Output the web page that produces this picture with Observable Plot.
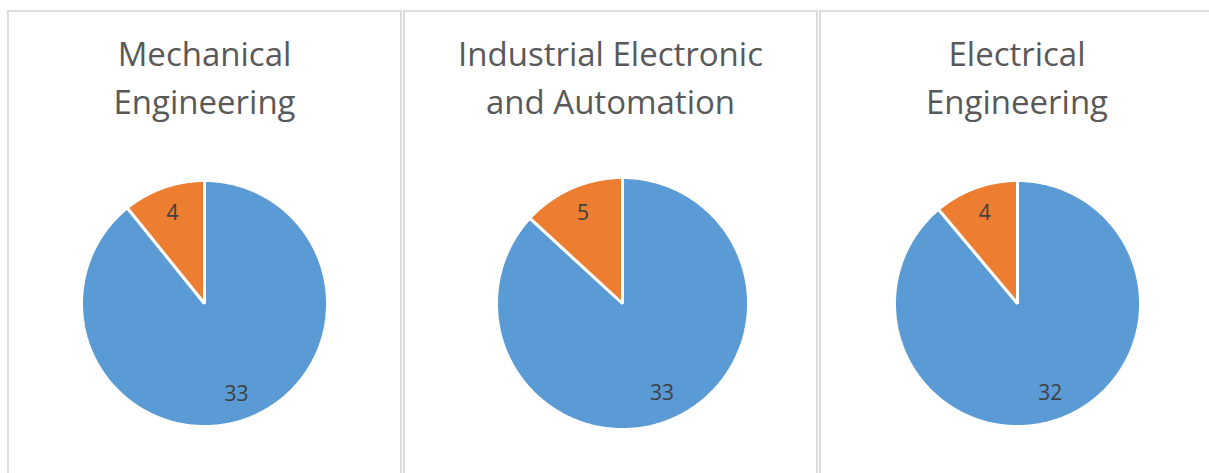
<!DOCTYPE html>
<html>
<head>
<meta charset="utf-8">
<script src="https://cdn.jsdelivr.net/npm/d3@7"></script>
<script src="https://cdn.jsdelivr.net/npm/@observablehq/plot@0.6"></script>
<style>
  html, body { margin: 0; padding: 0; background: #fff; }
  #root { position: relative; width: 1209px; height: 473px; overflow: hidden; font-family: "Open Sans", sans-serif; }
  .panel { position: absolute; top: 10px; height: 480px; box-sizing: border-box; border: 2px solid #dcdcdc; background: #fff; }
  .title { position: absolute; left: 0; right: 0; top: 18px; text-align: center; font-size: 33px; line-height: 48px; color: #595959; }
  .panel svg { position: absolute; left: 0; top: 0; }
</style>
</head>
<body>
<div id="root"></div>
<script>
// Data
const departments = ["Mechanical Engineering", "Industrial Electronic and Automation", "Electrical Engineering"];
const titleLines = [["Mechanical", "Engineering"], ["Industrial Electronic", "and Automation"], ["Electrical", "Engineering"]];
const categories = ["A", "B"];
const seriesA = [33, 33, 32];
const seriesB = [4, 5, 4];
const colors = ["#5B9BD5", "#ED7D31"];

// Layout (pixels, relative to panel content box)
const panels = [
  {left: 7, width: 395, cx: 195, cy: 291, r: 123},
  {left: 403, width: 415, cx: 217, cy: 291, r: 126},
  {left: 819, width: 396, cx: 196, cy: 291, r: 123}
];

const root = document.getElementById("root");

departments.forEach((dept, i) => {
  const p = panels[i];
  const div = document.createElement("div");
  div.className = "panel";
  div.style.left = p.left + "px";
  div.style.width = p.width + "px";
  const t = document.createElement("div");
  t.className = "title";
  t.innerHTML = titleLines[i].join("<br>");
  div.appendChild(t);

  const values = [seriesA[i], seriesB[i]];
  const pie = d3.pie().sort(null).value(d => d)(values);
  const pts = [];
  const labels = [];
  pie.forEach((s, k) => {
    const cat = categories[k];
    pts.push({cat, x: 0, y: 0});
    const n = Math.max(2, Math.ceil((s.endAngle - s.startAngle) / (Math.PI / 360)));
    for (let j = 0; j <= n; j++) {
      const a = s.startAngle + (s.endAngle - s.startAngle) * j / n;
      pts.push({cat, x: Math.sin(a), y: Math.cos(a)});
    }
    const m = (s.startAngle + s.endAngle) / 2;
    labels.push({cat, x: 0.78 * Math.sin(m), y: 0.78 * Math.cos(m), v: values[k]});
  });

  const H = 463;
  const chart = Plot.plot({
    width: p.width - 4,
    height: H,
    margin: 0,
    x: {domain: [-1, 1], range: [p.cx - p.r, p.cx + p.r], axis: null},
    y: {domain: [-1, 1], range: [p.cy + p.r, p.cy - p.r], axis: null},
    color: {domain: categories, range: colors},
    style: {background: "transparent", overflow: "visible"},
    marks: [
      Plot.line(pts, {x: "x", y: "y", z: "cat", fill: "cat", stroke: "white", strokeWidth: 3, strokeLinejoin: "miter", curve: "linear-closed"}),
      Plot.text(labels, {x: "x", y: "y", text: "v", fill: "#404040", fontSize: 21, fontFamily: "Open Sans"})
    ]
  });
  div.appendChild(chart);
  root.appendChild(div);
});
</script>
</body>
</html>
